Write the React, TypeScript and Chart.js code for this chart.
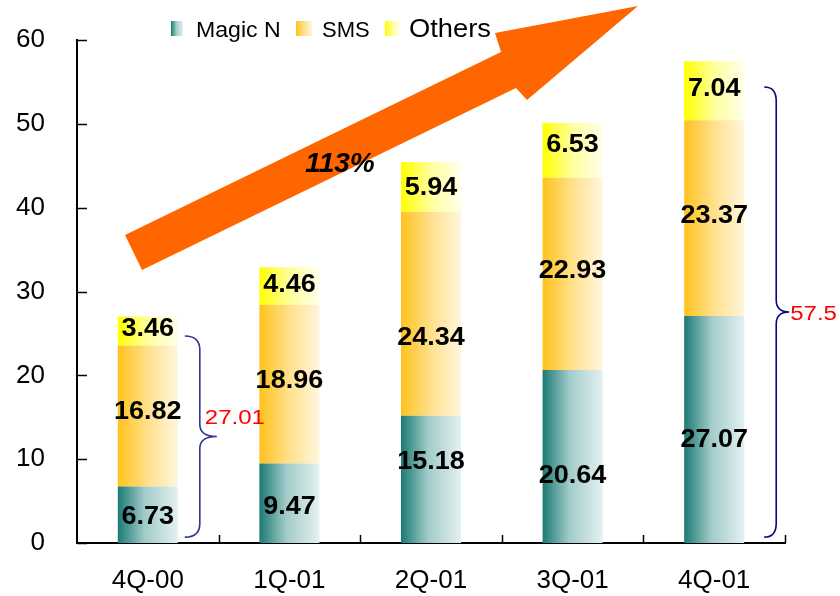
import React, { useEffect, useRef } from "react";
import { Chart, registerables } from "chart.js";

Chart.register(...registerables);

const categories = ["4Q-00", "1Q-01", "2Q-01", "3Q-01", "4Q-01"];
const magicN = [6.73, 9.47, 15.18, 20.64, 27.07];
const sms = [16.82, 18.96, 24.34, 22.93, 23.37];
const others = [3.46, 4.46, 5.94, 6.53, 7.04];
const seriesNames = ["Magic N", "SMS", "Others"];
const yMin = 0;
const yMax = 60;
const yStep = 10;
const growthLabel = "113%";
const braceBars = [0, 4];
const braceLabels = ["27.01", "57.5"];
const braceFrom = [0.7, 0.7];
const braceTo = [24.7, 54.4];

const FONT = '"Liberation Sans", Arial, sans-serif';
const BAR_PCT = 0.424;

// vertical nudges (px) of the value labels, as placed in the original slide
const LABEL_DY = [
  [2, 3.5, -17, 20, 11],
  [-4, -3, 24, -3, -1.5],
  [-2, -1, 1, -5, -2],
];

type Stop = [number, string];
const tealStops: Stop[] = [[0, "#1B7A74"], [0.45, "#A2CBC9"], [1, "#E3F1F1"]];
const smsStops: Stop[] = [[0, "#FFC21C"], [0.5, "#FFE08C"], [1, "#FFF6DC"]];
const othStops: Stop[] = [[0, "#FFFF00"], [0.5, "#FFFF9C"], [1, "#FFFFEC"]];

const barGrad = (stops: Stop[]) => (c: any) => {
  const chart = c.chart;
  const xs = chart.scales ? chart.scales.x : null;
  if (!chart.chartArea || !xs) return stops[0][1];
  const cw = (xs.right - xs.left) / categories.length;
  const w = cw * BAR_PCT;
  const cx = xs.getPixelForValue(c.dataIndex);
  const g = chart.ctx.createLinearGradient(cx - w / 2, 0, cx + w / 2, 0);
  stops.forEach(([o, col]) => g.addColorStop(o, col));
  return g;
};

function stretchText(
  ctx: CanvasRenderingContext2D,
  text: string,
  x: number,
  y: number,
  font: string,
  color: string,
  align: CanvasTextAlign,
  baseline: CanvasTextBaseline,
  sx: number
) {
  ctx.save();
  ctx.translate(x, y);
  ctx.scale(sx, 1);
  ctx.font = font;
  ctx.fillStyle = color;
  ctx.textAlign = align;
  ctx.textBaseline = baseline;
  ctx.fillText(text, 0, 0);
  ctx.restore();
}

const decorPlugin = {
  id: "decor",
  afterDraw(chart: any) {
    const ctx: CanvasRenderingContext2D = chart.ctx;
    const xs = chart.scales.x;
    const ys = chart.scales.y;
    const area = chart.chartArea;
    const cw = (xs.right - xs.left) / categories.length;

    // inner tick marks
    ctx.save();
    ctx.strokeStyle = "#000";
    ctx.lineWidth = 1.5;
    for (let v = yMin; v <= yMax; v += yStep) {
      const y = Math.round(ys.getPixelForValue(v)) + 0.5;
      ctx.beginPath();
      ctx.moveTo(area.left, y);
      ctx.lineTo(area.left + 10, y);
      ctx.stroke();
    }
    for (let i = 1; i <= categories.length; i++) {
      const x = Math.round(area.left + i * cw) + 0.5;
      ctx.beginPath();
      ctx.moveTo(x, area.bottom);
      ctx.lineTo(x, area.bottom - 8);
      ctx.stroke();
    }
    ctx.restore();

    // data labels
    chart.data.datasets.forEach((ds: any, di: number) => {
      const meta = chart.getDatasetMeta(di);
      meta.data.forEach((el: any, i: number) => {
        const v = ds.data[i];
        const y = (el.y + el.base) / 2 + LABEL_DY[di][i];
        stretchText(ctx, v.toFixed(2), el.x, y, `bold 25px ${FONT}`, "#000", "center", "middle", 1.08);
      });
    });

    // growth arrow
    ctx.save();
    ctx.fillStyle = "#FF6600";
    ctx.beginPath();
    ctx.moveTo(125, 235);
    ctx.lineTo(501, 52);
    ctx.lineTo(495, 33);
    ctx.lineTo(638, 6);
    ctx.lineTo(527, 100);
    ctx.lineTo(516, 88);
    ctx.lineTo(142, 270);
    ctx.closePath();
    ctx.fill();
    ctx.restore();
    stretchText(ctx, growthLabel, 340, 164, `italic bold 28px ${FONT}`, "#000", "center", "middle", 1);

    // braces
    const braceCfg = [
      { off: 7, lineDx: 15, tipDx: 32, color: "#34349C", labDx: 20, labDy: -18 },
      { off: 20, lineDx: 12, tipDx: 25, color: "#0A0A80", labDx: 26, labDy: 2 },
    ];
    braceBars.forEach((bi, k) => {
      const cfg = braceCfg[k];
      const cx = xs.getPixelForValue(bi);
      const x0 = cx + (cw * BAR_PCT) / 2 + cfg.off;
      const xl = x0 + cfg.lineDx;
      const xt = x0 + cfg.tipDx;
      const yTop = ys.getPixelForValue(braceTo[k]);
      const yBot = ys.getPixelForValue(braceFrom[k]);
      const yMid = (yTop + yBot) / 2;
      ctx.save();
      ctx.strokeStyle = cfg.color;
      ctx.lineWidth = 1.6;
      ctx.beginPath();
      ctx.moveTo(x0, yTop);
      ctx.quadraticCurveTo(xl, yTop, xl, yTop + 14);
      ctx.lineTo(xl, yMid - 12);
      ctx.quadraticCurveTo(xl, yMid, xt, yMid);
      ctx.quadraticCurveTo(xl, yMid, xl, yMid + 12);
      ctx.lineTo(xl, yBot - 14);
      ctx.quadraticCurveTo(xl, yBot, x0, yBot);
      ctx.stroke();
      ctx.restore();
      stretchText(ctx, braceLabels[k], x0 + cfg.labDx, yMid + cfg.labDy, `20px ${FONT}`, "#FF0000", "left", "middle", 1.2);
    });

    // legend
    const legendStops = [tealStops, smsStops, othStops];
    const sw = [
      { x: 171, w: 12 },
      { x: 296, w: 16 },
      { x: 385, w: 15 },
    ];
    const tx = [196, 322, 409];
    const fonts = [`22px ${FONT}`, `22px ${FONT}`, `26px ${FONT}`];
    const sxs = [1.05, 1.0, 1.05];
    seriesNames.forEach((name, i) => {
      const g = ctx.createLinearGradient(sw[i].x, 0, sw[i].x + sw[i].w, 0);
      legendStops[i].forEach(([o, col]) => g.addColorStop(o, col));
      ctx.fillStyle = g;
      ctx.fillRect(sw[i].x, 21, sw[i].w, 15);
      stretchText(ctx, name, tx[i], 37, fonts[i], "#000", "left", "alphabetic", sxs[i]);
    });
  },
};

export default function App() {
  const ref = useRef<HTMLCanvasElement | null>(null);
  useEffect(() => {
    document.body.style.margin = "0";
    if (!ref.current) return;
    Chart.defaults.font.family = FONT;
    const chart = new Chart(ref.current, {
      type: "bar",
      data: {
        labels: categories,
        datasets: [
          { label: seriesNames[0], data: magicN, backgroundColor: barGrad(tealStops) as any, borderWidth: 0 },
          { label: seriesNames[1], data: sms, backgroundColor: barGrad(smsStops) as any, borderWidth: 0 },
          { label: seriesNames[2], data: others, backgroundColor: barGrad(othStops) as any, borderWidth: 0 },
        ],
      },
      options: {
        responsive: false,
        animation: false,
        layout: { padding: { top: 40, right: 55, left: 0, bottom: 0 } },
        datasets: { bar: { barPercentage: BAR_PCT, categoryPercentage: 1 } },
        plugins: { legend: { display: false }, tooltip: { enabled: false } },
        scales: {
          x: {
            stacked: true,
            grid: { display: false },
            border: { display: true, color: "#000", width: 2 },
            ticks: { color: "#000", font: { size: 26, family: FONT }, padding: 14 },
            afterFit: (s: any) => {
              s.height = 53;
            },
          },
          y: {
            stacked: true,
            min: yMin,
            max: yMax,
            grid: { display: false },
            border: { display: true, color: "#000", width: 2 },
            ticks: { stepSize: yStep, color: "#000", font: { size: 26, family: FONT }, padding: 24 },
            afterFit: (s: any) => {
              s.width = 77;
            },
          },
        },
      },
      plugins: [decorPlugin],
    });
    return () => chart.destroy();
  }, []);
  return (
    <div style={{ width: 840, height: 596 }}>
      <canvas ref={ref} width={840} height={596} style={{ display: "block" }} />
    </div>
  );
}
